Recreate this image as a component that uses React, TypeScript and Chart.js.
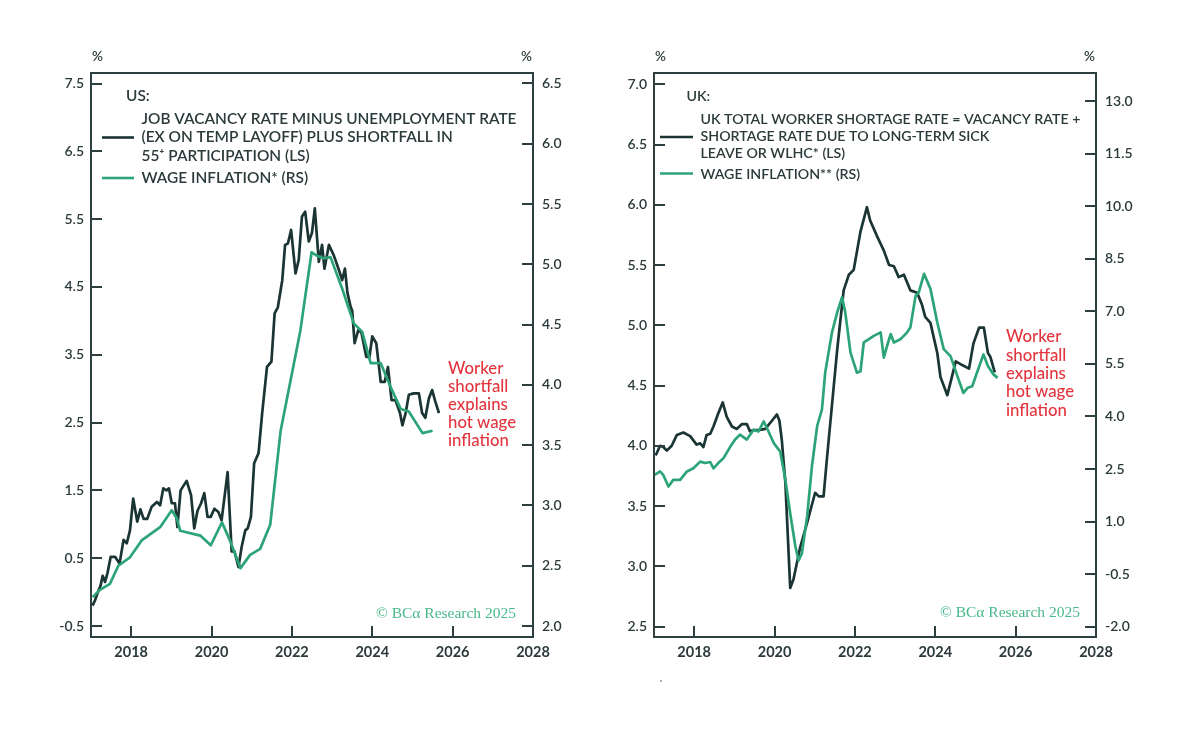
import React, { useEffect, useRef } from "react";
import { Chart, registerables } from "chart.js";

Chart.register(...registerables);

// ---------------- DATA ----------------
const X_TICKS = [2018, 2020, 2022, 2024, 2026, 2028];

const US_LEFT_TICKS = [-0.5, 0.5, 1.5, 2.5, 3.5, 4.5, 5.5, 6.5, 7.5];
const US_RIGHT_TICKS = [2.0, 2.5, 3.0, 3.5, 4.0, 4.5, 5.0, 5.5, 6.0, 6.5];
const UK_LEFT_TICKS = [2.5, 3.0, 3.5, 4.0, 4.5, 5.0, 5.5, 6.0, 6.5, 7.0];
const UK_RIGHT_TICKS = [-2.0, -0.5, 1.0, 2.5, 4.0, 5.5, 7.0, 8.5, 10.0, 11.5, 13.0];

// US: job vacancy rate minus unemployment rate plus 55+ shortfall (LS)
const US_GAP_YEARS = [
  2017.04, 2017.1, 2017.16, 2017.24, 2017.29, 2017.35, 2017.41, 2017.49, 2017.6, 2017.71,
  2017.81, 2017.89, 2017.97, 2018.05, 2018.15, 2018.23, 2018.31, 2018.4, 2018.51, 2018.64,
  2018.72, 2018.8, 2018.88, 2018.94, 2019.01, 2019.09, 2019.15, 2019.23, 2019.38, 2019.49,
  2019.57, 2019.65, 2019.74, 2019.82, 2019.9, 2019.98, 2020.07, 2020.17, 2020.25, 2020.4,
  2020.5, 2020.57, 2020.67, 2020.75, 2020.84, 2020.9, 2020.98, 2021.06, 2021.17, 2021.26,
  2021.38, 2021.49, 2021.57, 2021.65, 2021.76, 2021.83, 2021.9, 2021.98, 2022.09, 2022.17,
  2022.25, 2022.33, 2022.42, 2022.5, 2022.57, 2022.67, 2022.75, 2022.81, 2022.92, 2023.04,
  2023.17, 2023.25, 2023.32, 2023.38, 2023.46, 2023.5, 2023.56, 2023.65, 2023.73, 2023.85,
  2023.93, 2024.0, 2024.1, 2024.21, 2024.31, 2024.39, 2024.48, 2024.58, 2024.69, 2024.75,
  2024.83, 2024.91, 2025.03, 2025.16, 2025.24, 2025.32, 2025.41, 2025.49, 2025.57, 2025.66,
];
const US_GAP_VALUES = [
  -0.2, -0.12, -0.02, 0.1, 0.24, 0.15, 0.28, 0.52, 0.52, 0.42,
  0.77, 0.72, 0.91, 1.38, 1.04, 1.22, 1.08, 1.08, 1.26, 1.33,
  1.28, 1.53, 1.5, 1.53, 1.31, 1.31, 0.96, 1.5, 1.64, 1.43,
  0.94, 1.2, 1.31, 1.46, 1.11, 1.11, 1.23, 1.18, 1.06, 1.77,
  0.6, 0.6, 0.37, 0.67, 0.91, 0.94, 1.11, 1.9, 2.05, 2.64,
  3.32, 3.4, 4.11, 4.2, 4.6, 5.12, 5.14, 5.34, 4.7, 4.9,
  5.54, 5.61, 5.17, 5.3, 5.66, 4.87, 5.12, 4.77, 5.12, 4.97,
  4.75, 4.6, 4.77, 4.42, 4.21, 4.15, 3.67, 3.86, 3.83, 3.47,
  3.47, 3.77, 3.67, 3.1, 3.1, 3.32, 2.83, 2.83, 2.64, 2.46,
  2.64, 2.91, 2.93, 2.93, 2.64, 2.57, 2.86, 2.98, 2.81, 2.64,
];

// US: wage inflation (RS)
const US_WAGE_YEARS = [
  2017.04, 2017.22, 2017.47, 2017.68, 2017.97, 2018.26, 2018.72, 2019.01, 2019.14, 2019.22,
  2019.72, 2019.98, 2020.26, 2020.47, 2020.72, 2020.96, 2021.21, 2021.46, 2021.72, 2022.21,
  2022.49, 2022.63, 2022.79, 2022.96, 2023.25, 2023.54, 2023.75, 2023.96, 2024.21, 2024.46,
  2024.71, 2024.91, 2025.25, 2025.5,
];
const US_WAGE_VALUES = [
  2.24, 2.3, 2.35, 2.5, 2.57, 2.71, 2.82, 2.96, 2.89, 2.79,
  2.75, 2.67, 2.86, 2.7, 2.48, 2.59, 2.64, 2.84, 3.62, 4.45,
  5.1, 5.07, 5.05, 5.06, 4.8, 4.51, 4.44, 4.18, 4.18, 3.98,
  3.8, 3.78, 3.6, 3.62,
];

// UK: total worker shortage rate (LS)
const UK_SHORT_YEARS = [
  2017.04, 2017.07, 2017.15, 2017.23, 2017.32, 2017.44, 2017.57, 2017.73, 2017.9, 2018.06,
  2018.15, 2018.23, 2018.31, 2018.4, 2018.48, 2018.6, 2018.71, 2018.81, 2018.94, 2019.06,
  2019.19, 2019.31, 2019.39, 2019.48, 2019.6, 2019.77, 2019.94, 2020.06, 2020.12, 2020.18,
  2020.27, 2020.39, 2020.47, 2020.64, 2020.81, 2021.01, 2021.1, 2021.22, 2021.3, 2021.56,
  2021.72, 2021.85, 2021.97, 2022.14, 2022.3, 2022.38, 2022.55, 2022.72, 2022.85, 2022.97,
  2023.09, 2023.22, 2023.38, 2023.55, 2023.67, 2023.75, 2023.88, 2024.05, 2024.13, 2024.3,
  2024.51, 2024.67, 2024.84, 2024.95, 2025.09, 2025.21, 2025.31, 2025.37, 2025.48,
];
const UK_SHORT_VALUES = [
  3.92, 3.94, 4.0, 3.99, 3.96, 4.0, 4.09, 4.11, 4.08, 4.01,
  4.02, 3.99, 4.09, 4.1, 4.16, 4.27, 4.36, 4.24, 4.16, 4.14,
  4.18, 4.18, 4.12, 4.13, 4.13, 4.14, 4.21, 4.26, 4.21, 4.05,
  3.69, 2.82, 2.89, 3.16, 3.36, 3.61, 3.58, 3.58, 3.88, 4.8,
  5.29, 5.42, 5.46, 5.78, 5.98, 5.87, 5.74, 5.62, 5.5, 5.49,
  5.4, 5.42, 5.29, 5.27, 5.17, 5.07, 5.02, 4.77, 4.57, 4.42,
  4.7, 4.67, 4.64, 4.85, 4.98, 4.98, 4.77, 4.74, 4.61,
];

// UK: wage inflation (RS)
const UK_WAGE_YEARS = [
  2017.02, 2017.15, 2017.23, 2017.36, 2017.48, 2017.65, 2017.82, 2017.98, 2018.15, 2018.27,
  2018.4, 2018.48, 2018.6, 2018.73, 2018.9, 2019.02, 2019.14, 2019.31, 2019.48, 2019.6,
  2019.73, 2019.81, 2019.98, 2020.14, 2020.27, 2020.39, 2020.52, 2020.6, 2020.68, 2020.81,
  2020.93, 2021.06, 2021.18, 2021.26, 2021.43, 2021.56, 2021.68, 2021.76, 2021.89, 2022.05,
  2022.14, 2022.22, 2022.34, 2022.47, 2022.64, 2022.72, 2022.8, 2022.89, 2022.97, 2023.13,
  2023.3, 2023.38, 2023.51, 2023.59, 2023.72, 2023.88, 2024.05, 2024.21, 2024.38, 2024.55,
  2024.7, 2024.81, 2024.92, 2025.05, 2025.2, 2025.31, 2025.45, 2025.55,
];
const UK_WAGE_VALUES = [
  2.33, 2.43, 2.33, 2.0, 2.19, 2.19, 2.43, 2.52, 2.71, 2.67,
  2.7, 2.52, 2.67, 2.81, 3.14, 3.34, 3.48, 3.34, 3.62, 3.57,
  3.86, 3.67, 3.24, 3.0, 2.19, 1.23, 0.28, -0.11, 0.09, 1.14,
  2.57, 3.72, 4.2, 5.25, 6.4, 6.97, 7.4, 6.97, 5.82, 5.25,
  5.29, 6.11, 6.2, 6.3, 6.4, 5.68, 6.01, 6.35, 6.11, 6.2,
  6.4, 6.54, 7.44, 7.54, 8.07, 7.64, 6.68, 5.92, 5.72, 5.15,
  4.67, 4.82, 4.86, 5.29, 5.77, 5.44, 5.2, 5.1,
];

// ---------------- STYLE ----------------
const DARK = "#1b3434";
const GREEN = "#2ca478";
const AXIS = "#2e3f3f";
const TEXT = "#2b3a3a";
const RED = "#e2353d";
const COPY = "#47b88b";
const TICK_FONT = { family: "Lato", size: 14, weight: "600" as const };

type Spec = {
  gapYears: number[];
  gapValues: number[];
  wageYears: number[];
  wageValues: number[];
  leftTicks: number[];
  rightTicks: number[];
  leftMin: number;
  leftMax: number;
  rightMin: number;
  rightMax: number;
  leftAxisWidth: number;
  rightAxisWidth: number;
  header: string;
  headerPos: [number, number];
  legendFont: number;
  legendLineX: [number, number];
  legendTextX: number;
  gapLines: string[];
  gapLineYs: number[];
  gapMarkY: number;
  wageLabel: string;
  wageY: number;
  wageMarkY: number;
  noteLines: string[];
  notePos: [number, number];
  noteStep: number;
  copyPos: [number, number];
  strayDot?: [number, number];
};

const US: Spec = {
  gapYears: US_GAP_YEARS,
  gapValues: US_GAP_VALUES,
  wageYears: US_WAGE_YEARS,
  wageValues: US_WAGE_VALUES,
  leftTicks: US_LEFT_TICKS,
  rightTicks: US_RIGHT_TICKS,
  leftMin: -0.662,
  leftMax: 7.655,
  rightMin: 1.909,
  rightMax: 6.587,
  leftAxisWidth: 91,
  rightAxisWidth: 67,
  header: "US:",
  headerPos: [126, 96],
  legendFont: 15.4,
  legendLineX: [102, 134],
  legendTextX: 141.5,
  gapLines: [
    "JOB VACANCY RATE MINUS UNEMPLOYMENT RATE",
    "(EX ON TEMP LAYOFF) PLUS SHORTFALL IN",
    "55\u207A PARTICIPATION (LS)",
  ],
  gapLineYs: [119.5, 137.5, 156],
  gapMarkY: 137.5,
  wageLabel: "WAGE INFLATION* (RS)",
  wageY: 178.5,
  wageMarkY: 178,
  noteLines: ["Worker", "shortfall", "explains", "hot wage", "inflation"],
  notePos: [448, 368.5],
  noteStep: 18,
  copyPos: [376, 614],
};

const UK: Spec = {
  gapYears: UK_SHORT_YEARS,
  gapValues: UK_SHORT_VALUES,
  wageYears: UK_WAGE_YEARS,
  wageValues: UK_WAGE_VALUES,
  leftTicks: UK_LEFT_TICKS,
  rightTicks: UK_RIGHT_TICKS,
  leftMin: 2.413,
  leftMax: 7.094,
  rightMin: -2.294,
  rightMax: 13.8,
  leftAxisWidth: 54,
  rightAxisWidth: 104,
  header: "UK:",
  headerPos: [86.5, 96],
  legendFont: 14.2,
  legendLineX: [60, 93],
  legendTextX: 100.5,
  gapLines: [
    "UK TOTAL WORKER SHORTAGE RATE = VACANCY RATE +",
    "SHORTAGE RATE DUE TO LONG-TERM SICK",
    "LEAVE OR WLHC* (LS)",
  ],
  gapLineYs: [119.5, 136.5, 153.5],
  gapMarkY: 137,
  wageLabel: "WAGE INFLATION** (RS)",
  wageY: 174,
  wageMarkY: 173.5,
  noteLines: ["Worker", "shortfall", "explains", "hot wage", "inflation"],
  notePos: [406, 337],
  noteStep: 18.3,
  copyPos: [340, 613],
  strayDot: [61, 681],
};

function fixedTicks(values: number[]) {
  return (scale: any) => {
    scale.ticks = values.map((v) => ({ value: v }));
  };
}

function makeDecor(spec: Spec) {
  return {
    id: "decor",
    afterDraw(chart: any) {
      const { ctx, chartArea: a } = chart;
      const xs = chart.scales.x;
      const yl = chart.scales.yL;
      const yr = chart.scales.yR;
      ctx.save();
      ctx.lineCap = "butt";
      // inward tick marks
      ctx.strokeStyle = AXIS;
      ctx.lineWidth = 2;
      ctx.beginPath();
      yl.ticks.forEach((t: any) => {
        const p = Math.round(yl.getPixelForValue(t.value));
        ctx.moveTo(a.left, p);
        ctx.lineTo(a.left + 11, p);
      });
      yr.ticks.forEach((t: any) => {
        const p = Math.round(yr.getPixelForValue(t.value));
        ctx.moveTo(a.right, p);
        ctx.lineTo(a.right - 11, p);
      });
      xs.ticks.forEach((t: any) => {
        const p = Math.round(xs.getPixelForValue(t.value));
        ctx.moveTo(p, a.bottom);
        ctx.lineTo(p, a.bottom - 11);
      });
      ctx.stroke();
      // frame
      ctx.lineWidth = 2;
      ctx.strokeStyle = AXIS;
      ctx.strokeRect(a.left, a.top, a.right - a.left, a.bottom - a.top);

      // % unit labels
      ctx.fillStyle = TEXT;
      ctx.font = "600 13.5px Lato";
      ctx.textBaseline = "middle";
      ctx.textAlign = "left";
      ctx.fillText("%", a.left + 1, 57);
      ctx.textAlign = "right";
      ctx.fillText("%", a.right - 1, 57);

      // legend
      ctx.textAlign = "left";
      ctx.font = `600 ${spec.legendFont}px Lato`;
      ctx.fillText(spec.header, spec.headerPos[0], spec.headerPos[1]);
      spec.gapLines.forEach((s, i) => ctx.fillText(s, spec.legendTextX, spec.gapLineYs[i]));
      ctx.fillText(spec.wageLabel, spec.legendTextX, spec.wageY);
      ctx.lineWidth = 2.6;
      ctx.strokeStyle = DARK;
      ctx.beginPath();
      ctx.moveTo(spec.legendLineX[0], spec.gapMarkY);
      ctx.lineTo(spec.legendLineX[1], spec.gapMarkY);
      ctx.stroke();
      ctx.strokeStyle = GREEN;
      ctx.beginPath();
      ctx.moveTo(spec.legendLineX[0], spec.wageMarkY);
      ctx.lineTo(spec.legendLineX[1], spec.wageMarkY);
      ctx.stroke();

      // annotation
      ctx.fillStyle = RED;
      ctx.font = "500 16.8px Lato";
      spec.noteLines.forEach((s, i) =>
        ctx.fillText(s, spec.notePos[0], spec.notePos[1] + i * spec.noteStep)
      );

      // copyright
      ctx.fillStyle = COPY;
      ctx.font = "15.5px 'Liberation Serif', 'DejaVu Serif', serif";
      ctx.fillText("\u00A9 BC\u03B1 Research 2025", spec.copyPos[0], spec.copyPos[1]);

      if (spec.strayDot) {
        ctx.fillStyle = "#8a9494";
        ctx.beginPath();
        ctx.arc(spec.strayDot[0], spec.strayDot[1], 1, 0, Math.PI * 2);
        ctx.fill();
      }
      ctx.restore();
    },
  };
}

function buildConfig(spec: Spec): any {
  const gap = spec.gapYears.map((x, i) => ({ x, y: spec.gapValues[i] }));
  const wage = spec.wageYears.map((x, i) => ({ x, y: spec.wageValues[i] }));
  return {
    type: "line",
    data: {
      datasets: [
        {
          label: "wage",
          data: wage,
          yAxisID: "yR",
          borderColor: GREEN,
          borderWidth: 2.7,
          pointRadius: 0,
          tension: 0,
          borderJoinStyle: "round",
          order: 0,
        },
        {
          label: "gap",
          data: gap,
          yAxisID: "yL",
          borderColor: DARK,
          borderWidth: 2.7,
          pointRadius: 0,
          tension: 0,
          borderJoinStyle: "round",
          order: 1,
        },
      ],
    },
    options: {
      animation: false,
      responsive: false,
      maintainAspectRatio: false,
      events: [],
      layout: { padding: { top: 73, left: 0, right: 0, bottom: 0 } },
      plugins: { legend: { display: false }, tooltip: { enabled: false }, title: { display: false } },
      scales: {
        x: {
          type: "linear",
          min: 2017,
          max: 2028,
          afterBuildTicks: fixedTicks(X_TICKS),
          afterFit: (s: any) => {
            s.height = 93;
          },
          grid: { display: false, drawTicks: false },
          border: { display: false },
          ticks: {
            padding: 7,
            autoSkip: false,
            maxRotation: 0,
            color: TEXT,
            font: { family: "Lato", size: 14.5, weight: "700" },
            callback: (v: any) => String(v),
          },
        },
        yL: {
          type: "linear",
          position: "left",
          min: spec.leftMin,
          max: spec.leftMax,
          afterBuildTicks: fixedTicks(spec.leftTicks),
          afterFit: (s: any) => {
            s.width = spec.leftAxisWidth;
          },
          grid: { display: false, drawTicks: false },
          border: { display: false },
          ticks: {
            padding: 7,
            autoSkip: false,
            color: TEXT,
            font: TICK_FONT,
            callback: (v: any) => Number(v).toFixed(1),
          },
        },
        yR: {
          type: "linear",
          position: "right",
          min: spec.rightMin,
          max: spec.rightMax,
          afterBuildTicks: fixedTicks(spec.rightTicks),
          afterFit: (s: any) => {
            s.width = spec.rightAxisWidth;
          },
          grid: { display: false, drawTicks: false },
          border: { display: false },
          ticks: {
            padding: 9,
            autoSkip: false,
            color: TEXT,
            font: TICK_FONT,
            callback: (v: any) => Number(v).toFixed(1),
          },
        },
      },
    },
    plugins: [makeDecor(spec)],
  };
}

function Panel({ spec, left }: { spec: Spec; left: number }) {
  const ref = useRef<HTMLCanvasElement>(null);
  useEffect(() => {
    if (!ref.current) return;
    const chart = new Chart(ref.current, buildConfig(spec));
    return () => chart.destroy();
  }, [spec]);
  return (
    <canvas
      ref={ref}
      width={600}
      height={730}
      style={{ position: "absolute", left, top: 0, width: 600, height: 730 }}
    />
  );
}

export default function App() {
  return (
    <div
      style={{
        position: "fixed",
        left: 0,
        top: 0,
        width: 1200,
        height: 730,
        background: "#ffffff",
        overflow: "hidden",
      }}
    >
      <Panel spec={US} left={0} />
      <Panel spec={UK} left={600} />
    </div>
  );
}
